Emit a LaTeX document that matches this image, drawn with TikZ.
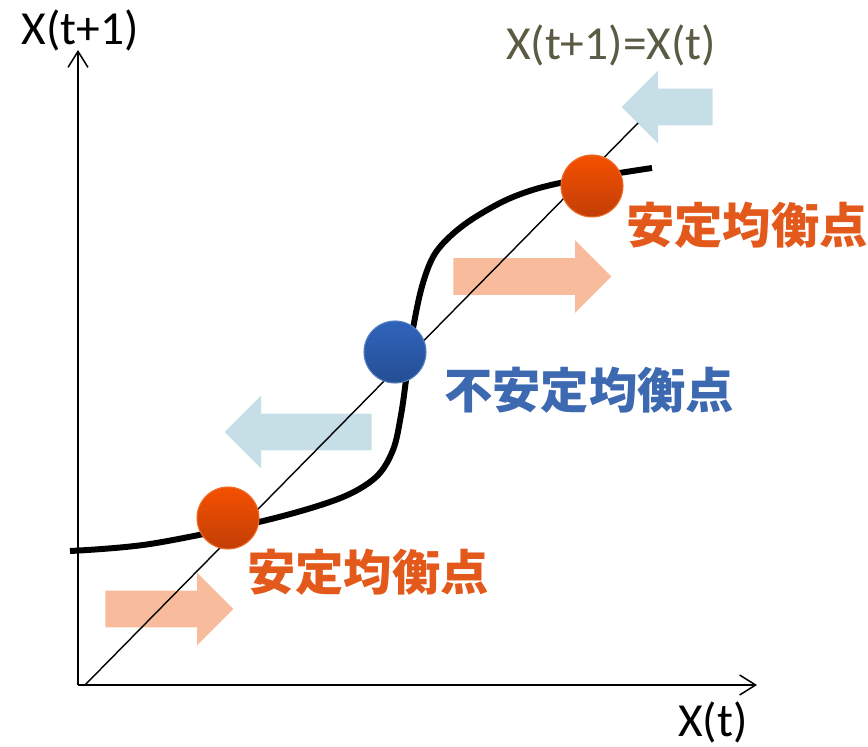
\documentclass[tikz,border=0pt]{standalone}
\usepackage{fontspec}
\setmainfont{Carlito}
\newfontfamily\jpfont{Noto Sans CJK JP}
\usepackage{xcolor}
\usepackage{tikz}
\usetikzlibrary{positioning, arrows.meta, shapes.arrows}
\definecolor{stabOrange} {HTML}{E2591B}
\definecolor{ballTopO}   {HTML}{F55000}
\definecolor{ballBotO}   {HTML}{C23E06}
\definecolor{ballRimO}   {HTML}{EC6E2A}
\definecolor{unstabBlue} {HTML}{3D69B1}
\definecolor{ballTopB}   {HTML}{2F64BC}
\definecolor{ballBotB}   {HTML}{254E92}
\definecolor{ballRimB}   {HTML}{5580C2}
\definecolor{flowBlue}   {HTML}{C6DEE6}
\definecolor{flowSalmon} {HTML}{F8BC9C}
\definecolor{eqOlive}    {HTML}{5B5A45}
\tikzset{
  axis/.style={
    line width=0.85pt, draw=black,
    -{Straight Barb[length=3.2mm, width=4mm, line width=0.85pt]}
  },
  diag/.style={
    line width=0.8pt, draw=black
  },
  mapcurve/.style={
    line width=3.4pt, draw=black, line cap=butt
  },
  axlabel/.style={
    font=\fontsize{27}{31}\selectfont, text=black, inner sep=0pt
  },
  stableball/.style={
    circle, minimum size=12.4mm, inner sep=0pt,
    top color=ballTopO, bottom color=ballBotO,
    draw=ballRimO, line width=0.6pt
  },
  unstableball/.style={
    circle, minimum size=12.4mm, inner sep=0pt,
    top color=ballTopB, bottom color=ballBotB,
    draw=ballRimB, line width=0.6pt
  },
  ptlabel/.style={
    font=\jpfont\bfseries\fontsize{27.5}{31}\selectfont, inner sep=0pt
  },
  flow/.style={
    single arrow, draw=none, inner xsep=0pt, inner ysep=0.36cm,
    minimum width=1.44cm, single arrow head extend=0.36cm,
    single arrow tip angle=90, anchor=tail
  },
  flowleft/.style={
    flow, fill=flowBlue, shape border rotate=180
  },
  flowright/.style={
    flow, fill=flowSalmon
  },
}

\begin{document}
\begin{tikzpicture}[x=1cm, y=1cm]
\useasboundingbox (-1.56, -1.22) rectangle (15.8, 13.7);

% flow arrows (placed by their tails, behind the 45 degree line)
\node[flowleft,  minimum height=1.82cm] (flowHi)  at (12.70, 11.56) {};
\node[flowright, minimum height=3.16cm] (flowMid) at ( 7.50,  8.17) {};
\node[flowleft,  minimum height=2.94cm] (flowLo)  at ( 5.88,  5.06) {};
\node[flowright, minimum height=2.56cm] (flowBot) at ( 0.54,  1.52) {};

% axes
\coordinate (O)    at (0, 0);
\coordinate (xend) at (13.58, 0);
\coordinate (yend) at (0, 12.7);
\draw[axis] (O) -- (xend);
\draw[axis] (O) -- (yend);

% X(t+1)=X(t)
\coordinate (d0) at (0.14, 0);
\coordinate (d1) at (11.2, 11.24);
\draw[diag] (d0) -- (d1);

% the map
\draw[mapcurve] plot[smooth, tension=0.55] coordinates {
  (-0.16, 2.68) (1.44, 2.82) (3.70, 3.28) (5.20, 3.72)
  (5.95, 4.15) (6.30, 4.70) (6.46, 5.40) (6.56, 6.10) (6.66, 6.90)
  (6.86, 7.90) (7.10, 8.56) (7.45, 8.98) (7.95, 9.36) (8.70, 9.76)
  (9.64, 10.04) (11.48, 10.34)
};

% equilibria
\node[stableball]   (eqLo)  at ( 3.00,  3.34) {};
\node[unstableball] (eqMid) at ( 6.34,  6.66) {};
\node[stableball]   (eqHi)  at (10.28,  9.98) {};

% labels
\node[axlabel] (ylab) at (0.04, 13.1) {X(t+1)};
\node[axlabel] (xlab) at (12.7, -0.74) {X(t)};
\node[axlabel, text=eqOlive] (diaglab) at (10.66, 12.8) {X(t+1)=X(t)};
\node[ptlabel, text=stabOrange] (labHi)  at (13.38, 9.2)  {安定均衡点};
\node[ptlabel, text=unstabBlue] (labMid) at (10.22, 5.9)  {不安定均衡点};
\node[ptlabel, text=stabOrange] (labLo)  at ( 5.80, 2.26) {安定均衡点};

\end{tikzpicture}
\end{document}
